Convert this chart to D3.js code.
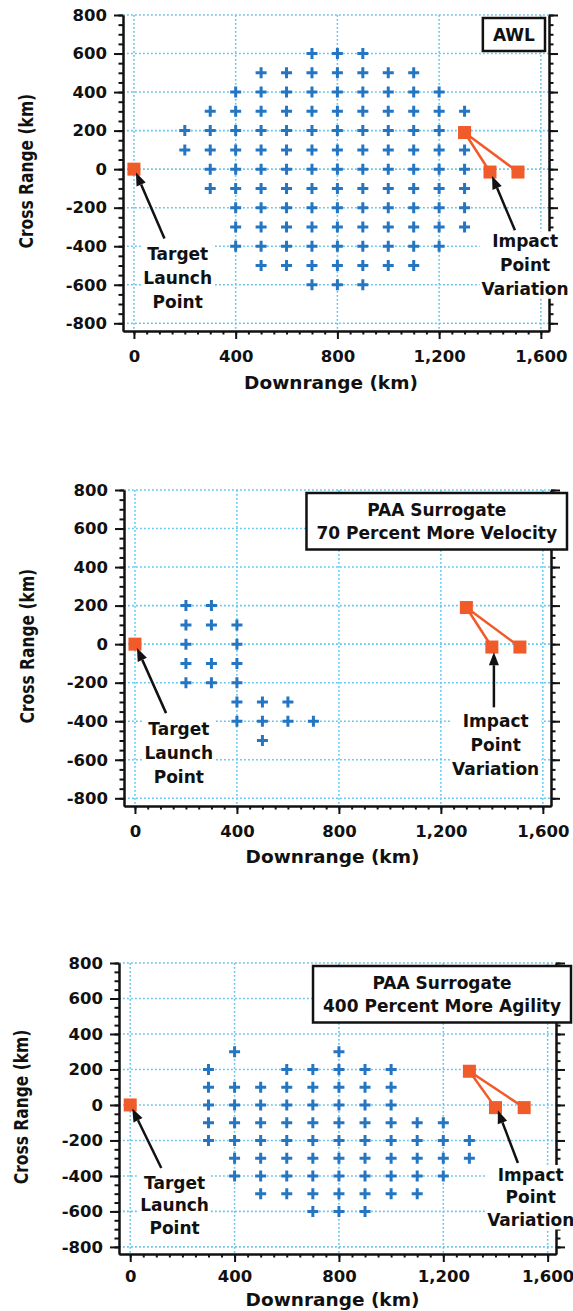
<!DOCTYPE html>
<html>
<head>
<meta charset="utf-8">
<script src="https://cdn.jsdelivr.net/npm/d3@7"></script>
<style>
  body { margin: 0; background: #fff; }
  svg text { font-family: "DejaVu Sans", sans-serif; font-weight: bold; fill: #111; }
</style>
</head>
<body>
<div id="chart"></div>
<script>
// tick labels
const xTicks = [0, 400, 800, 1200, 1600];
const yTicks = [-800, -600, -400, -200, 0, 200, 400, 600, 800];

// launch point and impact point variation (downrange, cross range in km)
const launchDown = [0];
const launchCross = [0];
const impactDown = [1300, 1400, 1510];
const impactCross = [190, -15, -15];

// reachable points: [cross range, [downrange values]]
const awlPoints = [
  [600, [700, 800, 900]],
  [500, [500, 600, 700, 800, 900, 1000, 1100]],
  [400, [400, 500, 600, 700, 800, 900, 1000, 1100, 1200]],
  [300, [300, 400, 500, 600, 700, 800, 900, 1000, 1100, 1200, 1300]],
  [200, [200, 300, 400, 500, 600, 700, 800, 900, 1000, 1100, 1200]],
  [100, [200, 300, 400, 500, 600, 700, 800, 900, 1000, 1100, 1200, 1300]],
  [0, [300, 400, 500, 600, 700, 800, 900, 1000, 1100, 1200, 1300]],
  [-100, [300, 400, 500, 600, 700, 800, 900, 1000, 1100, 1200, 1300]],
  [-200, [400, 500, 600, 700, 800, 900, 1000, 1100, 1200, 1300]],
  [-300, [400, 500, 600, 700, 800, 900, 1000, 1100, 1200, 1300]],
  [-400, [400, 500, 600, 700, 800, 900, 1000, 1100, 1200]],
  [-500, [500, 600, 700, 800, 900, 1000, 1100]],
  [-600, [700, 800, 900]]
];
const velocityPoints = [
  [200, [200, 300]],
  [100, [200, 300, 400]],
  [0, [200, 400]],
  [-100, [200, 300, 400]],
  [-200, [200, 300, 400]],
  [-300, [400, 500, 600]],
  [-400, [400, 500, 600, 700]],
  [-500, [500]]
];
const agilityPoints = [
  [300, [400, 800]],
  [200, [300, 600, 700, 800, 900, 1000]],
  [100, [300, 400, 500, 600, 700, 800, 900, 1000]],
  [0, [300, 400, 500, 600, 700, 800, 900, 1000]],
  [-100, [300, 400, 500, 600, 700, 800, 900, 1000, 1100, 1200]],
  [-200, [300, 400, 500, 600, 700, 800, 900, 1000, 1100, 1200, 1300]],
  [-300, [400, 500, 600, 700, 800, 900, 1000, 1100, 1200, 1300]],
  [-400, [400, 500, 600, 700, 800, 900, 1000, 1100, 1200]],
  [-500, [500, 600, 700, 800, 900, 1000, 1100]],
  [-600, [700, 800, 900]]
];

const boxTitles = [
  ["AWL"],
  ["PAA Surrogate", "70 Percent More Velocity"],
  ["PAA Surrogate", "400 Percent More Agility"]
];

const blue = "#2476c2", orange = "#f15a29", gridCol = "#62c6ef";

// layout of the three panels (pixels) and annotation spots (km)
const panels = [
  { pts: awlPoints, title: boxTitles[0], left: 123, right: 549, top: 15, bottom: 331, yTitleX: 26,
    tickPad: 11, titleOff: 51, boxRight: 545, boxTop: 18,
    launchTxt: [172, [-440, -565, -690]], launchArrow: [[120, -360], [8, -18]],
    impactTxt: [1538, [-374, -498, -620]], impactArrow: [[1498, -317], [1408, -36]] },
  { pts: velocityPoints, title: boxTitles[1], left: 124, right: 551, top: 490, bottom: 806, yTitleX: 27,
    tickPad: 11, titleOff: 50, boxRight: 567, boxTop: 493,
    launchTxt: [172, [-440, -565, -690]], launchArrow: [[122, -358], [8, -20]],
    impactTxt: [1415, [-400, -525, -649]], impactArrow: [[1408, -328], [1408, -42]] },
  { pts: agilityPoints, title: boxTitles[2], left: 119, right: 556, top: 963, bottom: 1254, yTitleX: 21,
    tickPad: 8, titleOff: 45, boxRight: 571, boxTop: 966,
    launchTxt: [170, [-440, -565, -690]], launchArrow: [[119, -355], [8, -20]],
    impactTxt: [1535, [-394, -518, -645]], impactArrow: [[1486, -327], [1409, -30]] }
];

const svg = d3.select("#chart").append("svg")
  .attr("width", 573).attr("height", 1311);

const fmtX = d3.formatLocale({ decimal: ".", thousands: ",", grouping: [3], currency: ["", ""], minus: "-" }).format(",");

function arrow(g, x1, y1, x2, y2) {
  const ang = Math.atan2(y2 - y1, x2 - x1);
  const len = 13, hw = 5;
  const bx = x2 - Math.cos(ang) * len, by = y2 - Math.sin(ang) * len;
  g.append("line").attr("x1", x1).attr("y1", y1).attr("x2", bx).attr("y2", by)
    .attr("stroke", "#111").attr("stroke-width", 2.5);
  const px = -Math.sin(ang) * hw, py = Math.cos(ang) * hw;
  g.append("path")
    .attr("d", `M${x2},${y2}L${bx + px},${by + py}L${bx - px},${by - py}Z`)
    .attr("fill", "#111");
}

function textBlock(g, cx, ys, lines, size) {
  const tg = g.append("g");
  lines.forEach((t, i) => {
    tg.append("text").attr("x", cx).attr("y", ys[i]).attr("dy", "0.36em")
      .attr("text-anchor", "middle").style("font-size", size + "px").text(t);
  });
  const bb = tg.node().getBBox();
  tg.insert("rect", ":first-child")
    .attr("x", bb.x - 2).attr("y", bb.y).attr("width", bb.width + 4).attr("height", bb.height)
    .attr("fill", "#fff");
  return tg;
}

panels.forEach(p => {
  const x = d3.scaleLinear().domain([-43, 1632]).range([p.left, p.right]);
  const y = d3.scaleLinear().domain([-840, 800]).range([p.bottom, p.top]);
  const g = svg.append("g");

  // dotted grid
  g.selectAll(".gx").data(xTicks).enter().append("line")
    .attr("x1", d => x(d)).attr("x2", d => x(d)).attr("y1", y(800)).attr("y2", p.bottom)
    .attr("stroke", gridCol).attr("stroke-width", 1.6).attr("stroke-dasharray", "1.8,2.2");
  g.selectAll(".gy").data(yTicks).enter().append("line")
    .attr("x1", p.left).attr("x2", p.right).attr("y1", d => y(d)).attr("y2", d => y(d))
    .attr("stroke", gridCol).attr("stroke-width", 1.6).attr("stroke-dasharray", "1.8,2.2");

  // axes: minor ticks then major ticks with labels
  const minorX = d3.range(0, 1601, 50), minorY = d3.range(-800, 801, 50);
  const styleAxis = a => {
    a.selectAll("path,line").attr("stroke", "#111").attr("stroke-width", 2);
    a.selectAll("text").style("font-size", "16.5px").attr("fill", "#111");
  };
  g.append("g").attr("transform", `translate(0,${p.bottom})`)
    .call(d3.axisBottom(x).tickValues(minorX).tickSize(3.5).tickSizeOuter(0).tickFormat(""))
    .call(styleAxis);
  g.append("g").attr("transform", `translate(0,${p.bottom})`)
    .call(d3.axisBottom(x).tickValues(xTicks).tickSize(8).tickSizeOuter(0).tickPadding(p.tickPad).tickFormat(fmtX))
    .call(styleAxis);
  g.append("g").attr("transform", `translate(${p.left},0)`)
    .call(d3.axisLeft(y).tickValues(minorY).tickSize(4.5).tickSizeOuter(0).tickFormat(""))
    .call(styleAxis);
  g.append("g").attr("transform", `translate(${p.left},0)`)
    .call(d3.axisLeft(y).tickValues(yTicks).tickSize(9).tickSizeOuter(0).tickPadding(7).tickFormat(fmtX))
    .call(styleAxis);
  g.append("g").attr("transform", `translate(${p.right},0)`)
    .call(d3.axisRight(y).tickValues(minorY).tickSize(4.5).tickSizeOuter(0).tickFormat(""))
    .call(styleAxis);
  g.append("g").attr("transform", `translate(${p.right},0)`)
    .call(d3.axisRight(y).tickValues(yTicks).tickSize(9).tickSizeOuter(0).tickFormat(""))
    .call(styleAxis);

  // axis titles
  g.append("text").attr("x", (p.left + p.right) / 2 - 5).attr("y", p.bottom + p.titleOff).attr("dy", "0.36em")
    .attr("text-anchor", "middle").style("font-size", "18.5px").text("Downrange (km)");
  g.append("text")
    .attr("transform", `translate(${p.yTitleX},${y(0) + 2}) rotate(-90) scale(1,1.3)`)
    .attr("dy", "0.36em").attr("text-anchor", "middle").style("font-size", "15.5px")
    .text("Cross Range (km)");

  // blue crosses
  const pts = p.pts.flatMap(([cr, downs]) => downs.map(dr => ({ dr, cr })));
  const s = 5.5;
  g.selectAll(".pt").data(pts).enter().append("path")
    .attr("d", d => `M${x(d.dr) - s},${y(d.cr)}H${x(d.dr) + s}M${x(d.dr)},${y(d.cr) - s}V${y(d.cr) + s}`)
    .attr("stroke", blue).attr("stroke-width", 3);

  // impact point variation
  [1, 2].forEach(i => {
    g.append("line").attr("x1", x(impactDown[0])).attr("y1", y(impactCross[0]))
      .attr("x2", x(impactDown[i])).attr("y2", y(impactCross[i]))
      .attr("stroke", orange).attr("stroke-width", 2.5);
  });
  const sq = 13;
  g.selectAll(".sq").data(impactDown.map((d, i) => [d, impactCross[i]])
      .concat(launchDown.map((d, i) => [d, launchCross[i]])))
    .enter().append("rect")
    .attr("x", d => x(d[0]) - sq / 2).attr("y", d => y(d[1]) - sq / 2)
    .attr("width", sq).attr("height", sq).attr("fill", orange);

  // annotations
  textBlock(g, x(p.launchTxt[0]), p.launchTxt[1].map(y), ["Target", "Launch", "Point"], 17);
  arrow(g, x(p.launchArrow[0][0]), y(p.launchArrow[0][1]), x(p.launchArrow[1][0]), y(p.launchArrow[1][1]));
  textBlock(g, x(p.impactTxt[0]), p.impactTxt[1].map(y), ["Impact", "Point", "Variation"], 17);
  arrow(g, x(p.impactArrow[0][0]), y(p.impactArrow[0][1]), x(p.impactArrow[1][0]), y(p.impactArrow[1][1]));

  // title box
  const bg = g.append("g");
  const tg = bg.append("g");
  p.title.forEach((t, i) => {
    tg.append("text").attr("y", i * 23.5).attr("dy", "0.36em").attr("text-anchor", "middle")
      .style("font-size", "17px").text(t);
  });
  const bb = tg.node().getBBox();
  const bw = bb.width + 20, bh = (p.title.length - 1) * 23.5 + 33;
  tg.attr("transform", `translate(${p.boxRight - bw / 2},${p.boxTop + 16.5})`);
  bg.insert("rect", ":first-child")
    .attr("x", p.boxRight - bw).attr("y", p.boxTop).attr("width", bw).attr("height", bh)
    .attr("fill", "#fff").attr("stroke", "#111").attr("stroke-width", 2.5);
});
</script>
</body>
</html>
